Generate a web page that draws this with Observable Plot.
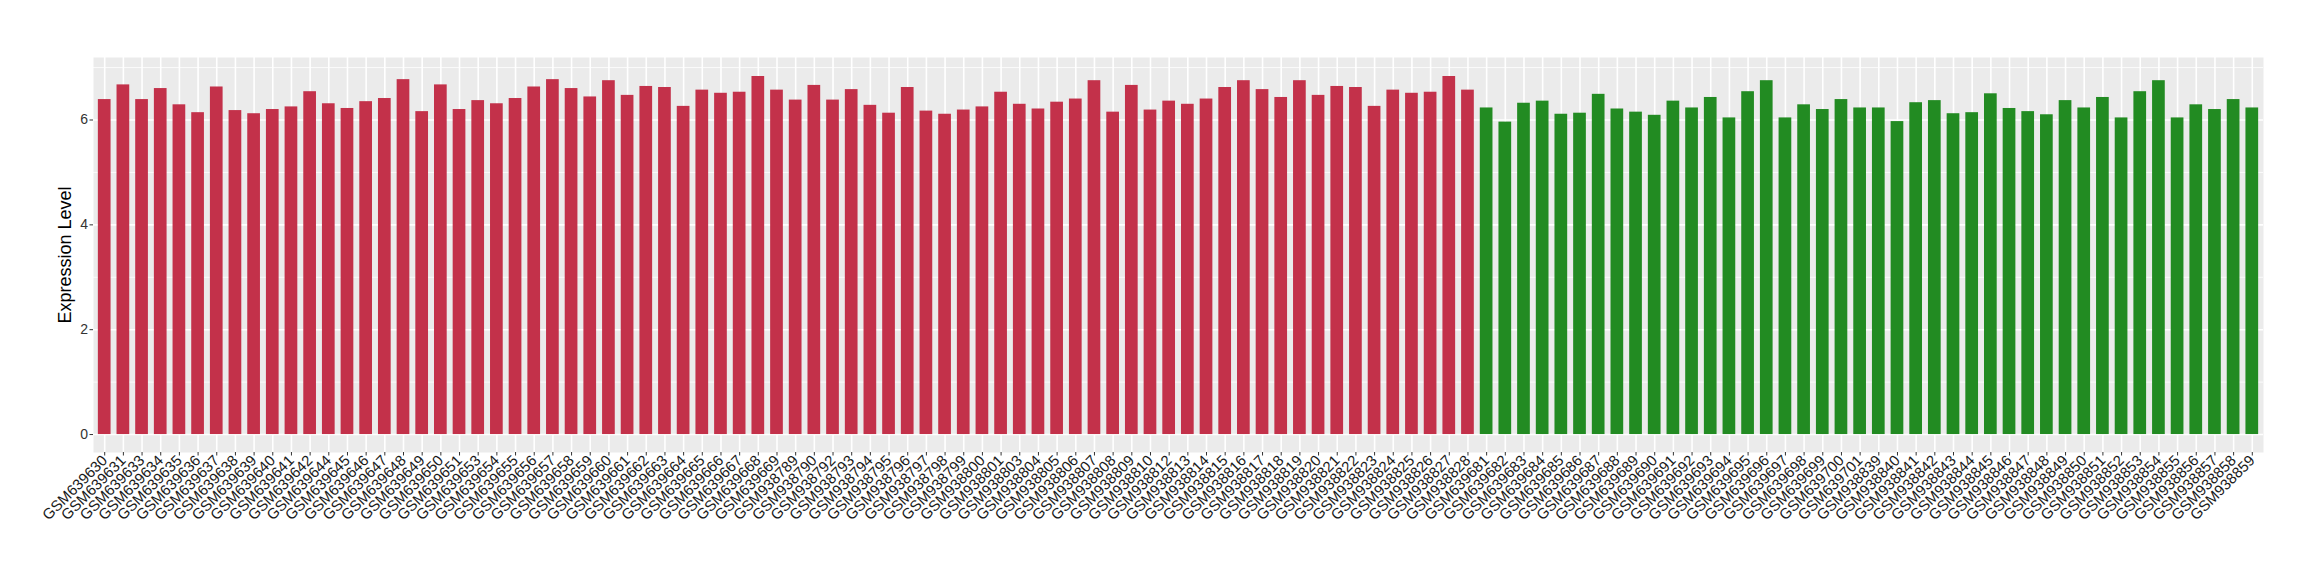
<!DOCTYPE html>
<html>
<head>
<meta charset="utf-8">
<script src="https://cdn.jsdelivr.net/npm/d3@7"></script>
<script src="https://cdn.jsdelivr.net/npm/@observablehq/plot@0.6"></script>
<style>
  html, body { margin: 0; padding: 0; background: #fff; }
  #chart svg { display: block; }
</style>
</head>
<body>
<div id="chart"></div>
<script>
// Group 1 (red) samples and expression values
const samplesRed = [
  "GSM639630","GSM639631","GSM639633","GSM639634","GSM639635","GSM639636","GSM639637","GSM639638","GSM639639","GSM639640",
  "GSM639641","GSM639642","GSM639644","GSM639645","GSM639646","GSM639647","GSM639648","GSM639649","GSM639650","GSM639651",
  "GSM639653","GSM639654","GSM639655","GSM639656","GSM639657","GSM639658","GSM639659","GSM639660","GSM639661","GSM639662",
  "GSM639663","GSM639664","GSM639665","GSM639666","GSM639667","GSM639668","GSM639669",
  "GSM938789","GSM938790","GSM938792","GSM938793","GSM938794","GSM938795","GSM938796","GSM938797","GSM938798","GSM938799",
  "GSM938800","GSM938801","GSM938803","GSM938804","GSM938805","GSM938806","GSM938807","GSM938808","GSM938809","GSM938810",
  "GSM938812","GSM938813","GSM938814","GSM938815","GSM938816","GSM938817","GSM938818","GSM938819","GSM938820","GSM938821",
  "GSM938822","GSM938823","GSM938824","GSM938825","GSM938826","GSM938827","GSM938828"
];
const valuesRed = [
  6.39, 6.67, 6.39, 6.60, 6.29, 6.14, 6.63, 6.18, 6.12, 6.20,
  6.25, 6.54, 6.31, 6.22, 6.35, 6.41, 6.77, 6.16, 6.67, 6.20,
  6.37, 6.31, 6.41, 6.63, 6.77, 6.60, 6.44, 6.75, 6.47, 6.64,
  6.62, 6.26, 6.57, 6.51, 6.53, 6.83, 6.57,
  6.38, 6.66, 6.38, 6.58, 6.28, 6.13, 6.62, 6.17, 6.11, 6.19,
  6.25, 6.53, 6.30, 6.21, 6.34, 6.40, 6.75, 6.15, 6.66, 6.19,
  6.36, 6.30, 6.40, 6.62, 6.75, 6.58, 6.43, 6.75, 6.47, 6.64,
  6.62, 6.26, 6.57, 6.51, 6.53, 6.83, 6.57
];
// Group 2 (green) samples and expression values
const samplesGreen = [
  "GSM639681","GSM639682","GSM639683","GSM639684","GSM639685","GSM639686","GSM639687","GSM639688","GSM639689","GSM639690",
  "GSM639691","GSM639692","GSM639693","GSM639694","GSM639695","GSM639696","GSM639697","GSM639698","GSM639699","GSM639700",
  "GSM639701",
  "GSM938839","GSM938840","GSM938841","GSM938842","GSM938843","GSM938844","GSM938845","GSM938846","GSM938847","GSM938848",
  "GSM938849","GSM938850","GSM938851","GSM938852","GSM938853","GSM938854","GSM938855","GSM938856","GSM938857","GSM938858",
  "GSM938859"
];
const valuesGreen = [
  6.23, 5.96, 6.32, 6.36, 6.11, 6.13, 6.49, 6.21, 6.15, 6.09,
  6.36, 6.23, 6.43, 6.04, 6.54, 6.75, 6.04, 6.29, 6.20, 6.39,
  6.23,
  6.23, 5.97, 6.33, 6.37, 6.12, 6.14, 6.50, 6.22, 6.16, 6.10,
  6.37, 6.23, 6.43, 6.04, 6.54, 6.75, 6.04, 6.29, 6.20, 6.39,
  6.23
];
const groups = ["group1", "group2"];
const groupColors = ["#C3314A", "#228B22"];
const yTicks = [0, 2, 4, 6];
const yMinor = [1, 3, 5, 7];
const yTitle = "Expression Level";

const data = [
  ...samplesRed.map((s, i) => ({sample: s, value: valuesRed[i], group: groups[0]})),
  ...samplesGreen.map((s, i) => ({sample: s, value: valuesGreen[i], group: groups[1]}))
];
const order = data.map(d => d.sample);

const font = "'Liberation Sans', Arial, Helvetica, sans-serif";

const chart = Plot.plot({
  width: 2320,
  height: 580,
  marginLeft: 93,
  marginRight: 57,
  marginTop: 57,
  marginBottom: 128,
  style: {fontFamily: font, fontSize: "13px", background: "#fff", color: "#000"},
  x: {domain: order, type: "band", paddingInner: 0.32, paddingOuter: 0.26, label: null},
  y: {domain: [-0.3425, 7.1925], label: null},
  color: {domain: groups, range: groupColors},
  marks: [
    Plot.frame({fill: "#EBEBEB", stroke: null}),
    Plot.gridY(yMinor, {stroke: "#fff", strokeOpacity: 1, strokeWidth: 0.8}),
    Plot.gridY(yTicks, {stroke: "#fff", strokeOpacity: 1, strokeWidth: 1.6}),
    Plot.gridX(order, {stroke: "#fff", strokeOpacity: 1, strokeWidth: 1.6}),
    Plot.barY(data, {x: "sample", y: "value", fill: "group"}),
    Plot.axisY(yTicks, {
      tickSize: 3.5, tickPadding: 2, stroke: "#333", fill: "#333", fontSize: 14,
      tickFormat: d3.format("d"), label: null
    }),
    Plot.axisX({
      tickSize: 3.5, tickPadding: 2, tickRotate: -45, stroke: "#333", fill: "#1a1a1a", fontSize: 15,
      label: null
    }),
    Plot.text([yTitle], {
      frameAnchor: "left", text: d => d, rotate: -90, dx: -28,
      fontSize: 18, fill: "#000", textAnchor: "middle", lineAnchor: "middle"
    })
  ]
});

document.getElementById("chart").appendChild(chart);
</script>
</body>
</html>
